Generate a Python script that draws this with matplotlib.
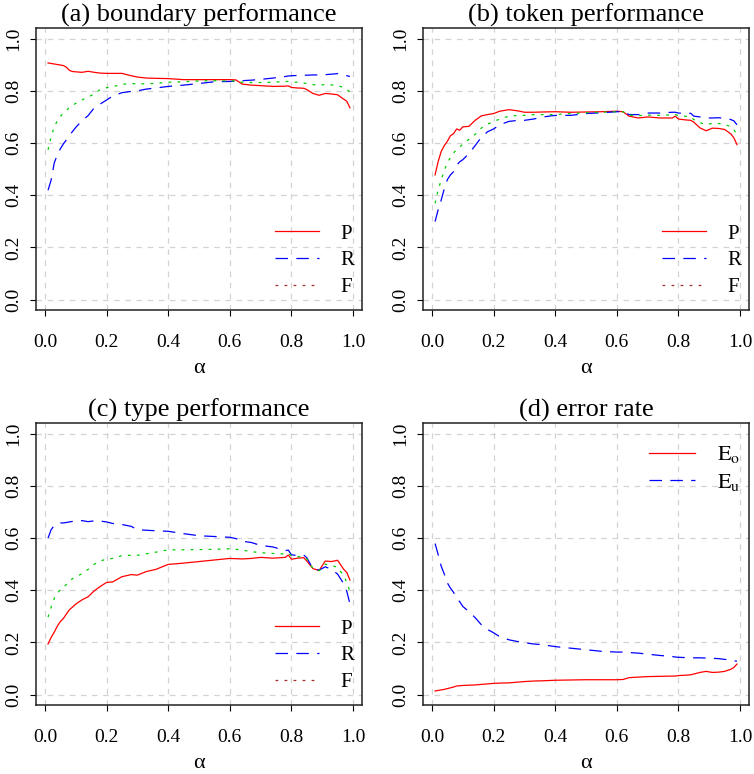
import matplotlib
matplotlib.use("Agg")
import matplotlib.pyplot as plt

plt.rcParams["font.family"] = ["Liberation Serif", "DejaVu Serif"]
plt.rcParams["mathtext.fontset"] = "stix"
plt.rcParams["lines.scale_dashes"] = False

# alpha values (x axis), shared by all panels
alpha = [0.01, 0.02, 0.03, 0.04, 0.05, 0.06, 0.07, 0.08, 0.09, 0.10,
         0.12, 0.14, 0.16, 0.18, 0.20, 0.22, 0.25, 0.28, 0.30, 0.33,
         0.36, 0.40, 0.45, 0.50, 0.55, 0.60, 0.62, 0.64, 0.67, 0.70,
         0.74, 0.78, 0.79, 0.80, 0.82, 0.84, 0.85, 0.87, 0.89, 0.91,
         0.93, 0.95, 0.97, 0.98, 0.99]

# (a) boundary performance
bound_p = [0.907, 0.905, 0.903, 0.901, 0.899, 0.897, 0.890, 0.878, 0.874, 0.873,
           0.871, 0.875, 0.871, 0.868, 0.867, 0.867, 0.867, 0.858, 0.853, 0.849,
           0.848, 0.847, 0.843, 0.843, 0.843, 0.843, 0.842, 0.826, 0.822, 0.820,
           0.817, 0.818, 0.819, 0.813, 0.811, 0.810, 0.805, 0.790, 0.783, 0.790,
           0.788, 0.785, 0.768, 0.760, 0.735]
bound_r = [0.419, 0.458, 0.523, 0.555, 0.578, 0.597, 0.613, 0.630, 0.645, 0.660,
           0.685, 0.705, 0.735, 0.750, 0.765, 0.780, 0.793, 0.798, 0.800, 0.807,
           0.811, 0.817, 0.822, 0.828, 0.835, 0.836, 0.837, 0.839, 0.841, 0.844,
           0.849, 0.855, 0.857, 0.858, 0.859, 0.860, 0.860, 0.861, 0.861, 0.862,
           0.864, 0.866, 0.862, 0.858, 0.855]
bound_f = [0.574, 0.623, 0.662, 0.685, 0.702, 0.715, 0.726, 0.737, 0.745, 0.752,
           0.765, 0.776, 0.788, 0.806, 0.812, 0.816, 0.825, 0.828, 0.827, 0.827,
           0.829, 0.833, 0.835, 0.838, 0.839, 0.838, 0.838, 0.833, 0.832, 0.832,
           0.833, 0.836, 0.836, 0.834, 0.833, 0.830, 0.828, 0.824, 0.822, 0.824,
           0.823, 0.820, 0.813, 0.806, 0.795]

# (b) token performance
token_p = [0.478, 0.529, 0.568, 0.590, 0.607, 0.628, 0.636, 0.654, 0.649, 0.662,
           0.664, 0.687, 0.704, 0.709, 0.713, 0.722, 0.728, 0.723, 0.718, 0.718,
           0.719, 0.720, 0.718, 0.719, 0.720, 0.722, 0.720, 0.703, 0.696, 0.700,
           0.696, 0.696, 0.703, 0.692, 0.689, 0.687, 0.680, 0.658, 0.647, 0.657,
           0.656, 0.652, 0.635, 0.620, 0.594]
token_r = [0.299, 0.344, 0.382, 0.425, 0.460, 0.478, 0.490, 0.515, 0.528, 0.536,
           0.560, 0.590, 0.622, 0.643, 0.654, 0.670, 0.683, 0.687, 0.687, 0.692,
           0.700, 0.706, 0.706, 0.713, 0.716, 0.720, 0.720, 0.709, 0.709, 0.715,
           0.715, 0.718, 0.718, 0.715, 0.713, 0.714, 0.703, 0.700, 0.696, 0.696,
           0.697, 0.695, 0.690, 0.685, 0.670]
token_f = [0.369, 0.420, 0.459, 0.495, 0.525, 0.545, 0.562, 0.575, 0.585, 0.595,
           0.614, 0.633, 0.657, 0.672, 0.682, 0.692, 0.703, 0.706, 0.706, 0.709,
           0.709, 0.709, 0.713, 0.716, 0.718, 0.720, 0.720, 0.707, 0.705, 0.707,
           0.706, 0.708, 0.709, 0.705, 0.703, 0.700, 0.690, 0.678, 0.670, 0.676,
           0.675, 0.671, 0.663, 0.652, 0.630]

# (c) type performance
type_p = [0.194, 0.219, 0.239, 0.262, 0.280, 0.292, 0.310, 0.326, 0.336, 0.347,
          0.363, 0.375, 0.398, 0.415, 0.430, 0.432, 0.452, 0.460, 0.458, 0.472,
          0.480, 0.499, 0.504, 0.510, 0.516, 0.522, 0.521, 0.520, 0.522, 0.526,
          0.523, 0.526, 0.535, 0.519, 0.523, 0.525, 0.512, 0.483, 0.476, 0.512,
          0.510, 0.515, 0.480, 0.468, 0.439]
type_r = [0.600, 0.632, 0.648, 0.655, 0.658, 0.658, 0.660, 0.662, 0.664, 0.665,
          0.667, 0.663, 0.666, 0.665, 0.662, 0.656, 0.652, 0.645, 0.632, 0.630,
          0.628, 0.626, 0.617, 0.609, 0.606, 0.603, 0.598, 0.588, 0.583, 0.572,
          0.566, 0.552, 0.554, 0.536, 0.533, 0.535, 0.525, 0.482, 0.477, 0.490,
          0.480, 0.462, 0.425, 0.395, 0.348]
type_f = [0.297, 0.335, 0.368, 0.388, 0.403, 0.413, 0.422, 0.435, 0.445, 0.452,
          0.463, 0.480, 0.500, 0.512, 0.520, 0.522, 0.533, 0.534, 0.534, 0.540,
          0.546, 0.555, 0.555, 0.556, 0.557, 0.559, 0.557, 0.554, 0.548, 0.544,
          0.541, 0.539, 0.542, 0.532, 0.529, 0.529, 0.520, 0.484, 0.475, 0.500,
          0.495, 0.488, 0.455, 0.430, 0.395]

# (d) error rate
err_o = [0.014, 0.016, 0.018, 0.020, 0.023, 0.026, 0.029, 0.033, 0.034, 0.035,
         0.036, 0.037, 0.039, 0.041, 0.043, 0.044, 0.045, 0.048, 0.050, 0.052,
         0.053, 0.055, 0.056, 0.057, 0.057, 0.057, 0.058, 0.065, 0.067, 0.069,
         0.070, 0.071, 0.071, 0.073, 0.074, 0.076, 0.079, 0.085, 0.089, 0.085,
         0.086, 0.089, 0.097, 0.104, 0.117]
err_u = [0.579, 0.537, 0.492, 0.462, 0.428, 0.408, 0.392, 0.370, 0.356, 0.338,
         0.318, 0.295, 0.268, 0.250, 0.237, 0.222, 0.210, 0.203, 0.199, 0.194,
         0.191, 0.184, 0.178, 0.172, 0.166, 0.163, 0.163, 0.161, 0.159, 0.155,
         0.150, 0.146, 0.144, 0.143, 0.142, 0.141, 0.141, 0.141, 0.140, 0.139,
         0.138, 0.135, 0.133, 0.130, 0.128]

titles = ["(a) boundary performance", "(b) token performance",
          "(c) type performance", "(d) error rate"]
ticks = [0.0, 0.2, 0.4, 0.6, 0.8, 1.0]
tick_labels = ["0.0", "0.2", "0.4", "0.6", "0.8", "1.0"]

RED = "#FF0000"
BLUE = "#0000FF"
GREEN = "#00CC00"
DASH = (0, (9, 6))
DOT = (0, (2, 4.5))

fig = plt.figure(figsize=(7.54, 7.74), dpi=100)
W = 0.4324
H = 0.3640
ax_a = fig.add_axes([0.0477, 0.5995, W, H])
ax_b = fig.add_axes([0.5610, 0.5995, W, H])
ax_c = fig.add_axes([0.0477, 0.0891, W, H])
ax_d = fig.add_axes([0.5610, 0.0891, W, H])


def style(ax, title):
    ax.set_xlim(-0.0292, 1.0292)
    ax.set_ylim(-0.04, 1.04)
    ax.set_xticks(ticks)
    ax.set_xticklabels(tick_labels)
    ax.set_yticks(ticks)
    ax.set_yticklabels(tick_labels)
    ax.grid(True, color="#D3D3D3", linestyle=(0, (4, 4)), linewidth=0.9)
    ax.set_axisbelow(True)
    for s in ax.spines.values():
        s.set_linewidth(1.1)
        s.set_color("#222222")
    ax.tick_params(axis="x", length=4, width=0.8, pad=13, labelsize=14)
    ax.tick_params(axis="y", length=4, width=0.8, pad=6, labelsize=14,
                   labelrotation=90)
    for lab in ax.get_yticklabels():
        lab.set_va("center")
    ax.set_title(title, fontsize=19, pad=5)
    ax.set_xlabel("α", fontsize=16, labelpad=6)


def prf_panel(ax, title, p, r, f):
    style(ax, title)
    ax.plot(alpha, p, color=RED, lw=0.9)
    ax.plot(alpha, r, color=BLUE, lw=0.9, linestyle=DASH)
    ax.plot(alpha, f, color=GREEN, lw=0.9, linestyle=DOT)
    # legend handles (the F key is drawn in a dark red, as in the original)
    h1, = ax.plot([], [], color=RED, lw=0.9)
    h2, = ax.plot([], [], color=BLUE, lw=0.9, linestyle=DASH)
    h3, = ax.plot([], [], color="#A52A2A", lw=0.9, linestyle=DOT)
    ax.legend([h1, h2, h3], ["P", "R", "F"], loc="lower right",
              bbox_to_anchor=(0.975, 0.045), frameon=False, fontsize=15,
              handlelength=2.1, handletextpad=1.0, labelspacing=0.35,
              borderpad=0, borderaxespad=0)


prf_panel(ax_a, titles[0], bound_p, bound_r, bound_f)
prf_panel(ax_b, titles[1], token_p, token_r, token_f)
prf_panel(ax_c, titles[2], type_p, type_r, type_f)

style(ax_d, titles[3])
ax_d.plot(alpha, err_o, color=RED, lw=0.9, label=r"$\mathrm{E}_{\mathrm{o}}$")
ax_d.plot(alpha, err_u, color=BLUE, lw=0.9, linestyle=DASH,
          label=r"$\mathrm{E}_{\mathrm{u}}$")
ax_d.legend(loc="upper right", bbox_to_anchor=(0.975, 0.925), frameon=False,
            fontsize=16, handlelength=2.1, handletextpad=1.0,
            labelspacing=0.3, borderpad=0, borderaxespad=0)

fig.savefig("out.png", dpi=100)
